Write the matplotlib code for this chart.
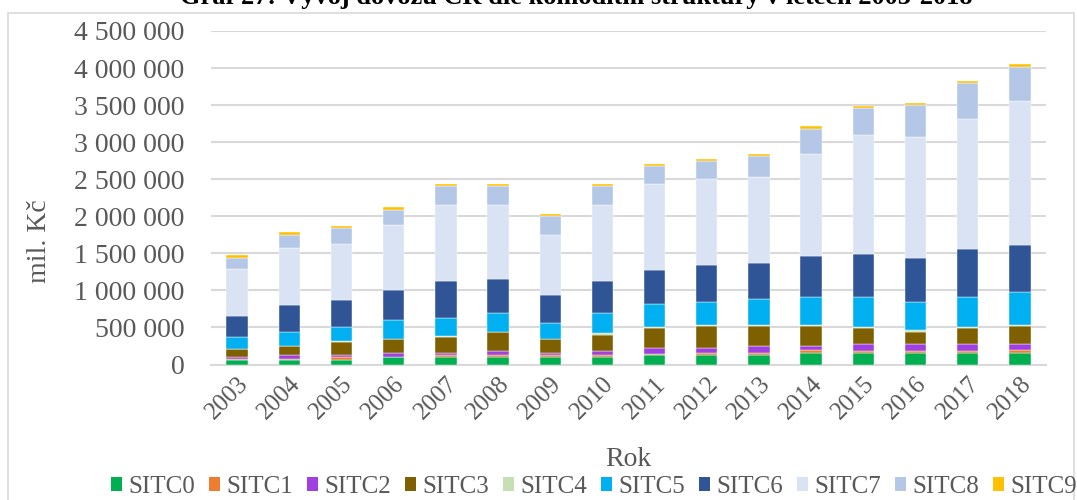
import matplotlib
matplotlib.use("Agg")
import matplotlib.pyplot as plt
from matplotlib.patches import Rectangle, Patch
import numpy as np

years = [str(y) for y in range(2003, 2019)]
series_names = ["SITC0", "SITC1", "SITC2", "SITC3", "SITC4",
                "SITC5", "SITC6", "SITC7", "SITC8", "SITC9"]

# values in mil. Kč
sitc0 = [57000, 60000, 61000, 97000, 97000, 97000, 97000, 97000, 125000, 128000, 128000, 155000, 151000, 151000, 151000, 155000]
sitc1 = [21000, 12000, 44000, 5000, 31000, 31000, 31000, 31000, 10000, 31000, 31000, 36000, 31000, 31000, 31000, 36000]
sitc2 = [19000, 56000, 23000, 49000, 23000, 54000, 23000, 54000, 83000, 59000, 91000, 59000, 95000, 95000, 95000, 86000]
sitc3 = [112000, 122000, 180000, 189000, 224000, 252000, 193000, 216000, 279000, 305000, 273000, 273000, 220000, 157000, 220000, 246000]
sitc4 = [6000, 6000, 6000, 6000, 6000, 6000, 6000, 25000, 6000, 6000, 6000, 6000, 6000, 25000, 6000, 6000]
sitc5 = [160000, 178000, 188000, 251000, 248000, 252000, 214000, 269000, 315000, 320000, 351000, 387000, 413000, 390000, 413000, 445000]
sitc6 = [285000, 375000, 370000, 408000, 494000, 467000, 376000, 431000, 462000, 494000, 495000, 553000, 580000, 589000, 643000, 643000]
sitc7 = [630000, 758000, 759000, 872000, 1033000, 997000, 812000, 1033000, 1159000, 1159000, 1154000, 1375000, 1600000, 1626000, 1752000, 1941000]
sitc8 = [148000, 181000, 211000, 212000, 247000, 247000, 247000, 247000, 243000, 247000, 278000, 337000, 363000, 431000, 494000, 462000]
sitc9 = [35000, 35000, 31000, 31000, 32000, 32000, 32000, 32000, 27000, 27000, 27000, 31000, 32000, 32000, 27000, 37000]

colors = ["#00B050", "#ED7D31", "#A040E0", "#7F6000", "#C5E0B4",
          "#00B0F0", "#2F5597", "#DAE3F3", "#B4C7E7", "#FFC000"]

y_ticks = [0, 500000, 1000000, 1500000, 2000000, 2500000, 3000000, 3500000, 4000000, 4500000]
y_tick_labels = ["0", "500 000", "1 000 000", "1 500 000", "2 000 000", "2 500 000",
                 "3 000 000", "3 500 000", "4 000 000", "4 500 000"]

plt.rcParams['font.family'] = ['Liberation Serif', 'DejaVu Serif']

W, H = 1077, 500
fig = plt.figure(figsize=(W / 100, H / 100), dpi=100)
ax = fig.add_axes([211 / W, 1 - 364.5 / H, (1046 - 211) / W, (364.5 - 31) / H])

data = [sitc0, sitc1, sitc2, sitc3, sitc4, sitc5, sitc6, sitc7, sitc8, sitc9]
x = np.arange(len(years))
bottom = np.zeros(len(years))
for name, vals, c in zip(series_names, data, colors):
    v = np.array(vals, dtype=float)
    ax.bar(x, v, width=0.41, bottom=bottom, color=c, label=name, zorder=3,
           edgecolor="white", linewidth=0.3)
    bottom += v

ax.set_xlim(-0.5, len(years) - 0.5)
ax.set_ylim(0, 4500000)
ax.set_yticks(y_ticks)
ax.set_yticklabels(y_tick_labels, fontsize=20, color="#595959")
ax.set_xticks(x)
ax.set_xticklabels(years, fontsize=18, color="#595959", rotation=45,
                   ha="right", rotation_mode="anchor")
ax.tick_params(axis="y", length=0, pad=19)
ax.tick_params(axis="x", length=0, pad=6)
ax.grid(axis="y", color="#d9d9d9", linewidth=1.5, zorder=0)
for s in ["top", "right", "left"]:
    ax.spines[s].set_visible(False)
ax.spines["bottom"].set_color("#d9d9d9")
ax.spines["bottom"].set_linewidth(1.5)

fig.text(40 / W, 1 - 241 / H, "mil. Kč", rotation=90, fontsize=20,
         color="#595959", ha="center", va="center")
fig.text(628 / W, 1 - 460 / H, "Rok", fontsize=20, color="#595959",
         ha="center", va="center")

fig.text(576 / W, 1 - 4 / H,
         "Graf 27: Vývoj dovozu ČR dle komoditní struktury v letech 2003-2018",
         fontsize=19, fontweight="bold", ha="center", va="baseline", color="black")

fig.patches.append(Rectangle((8 / W, -0.05), (1074 - 8) / W, 1.05 - 13 / H,
                             transform=fig.transFigure, fill=False,
                             edgecolor="#d9d9d9", linewidth=1.2))

handles = [Patch(facecolor=c, edgecolor="none") for c in colors]
fig.legend(handles, series_names, loc="center", bbox_to_anchor=(594 / W, 1 - 487 / H),
           ncol=10, frameon=False, fontsize=18, handlelength=0.45, handleheight=0.5,
           handletextpad=0.25, columnspacing=0.55, labelcolor="#595959",
           borderaxespad=0, borderpad=0)

fig.savefig("out.png", dpi=100)
